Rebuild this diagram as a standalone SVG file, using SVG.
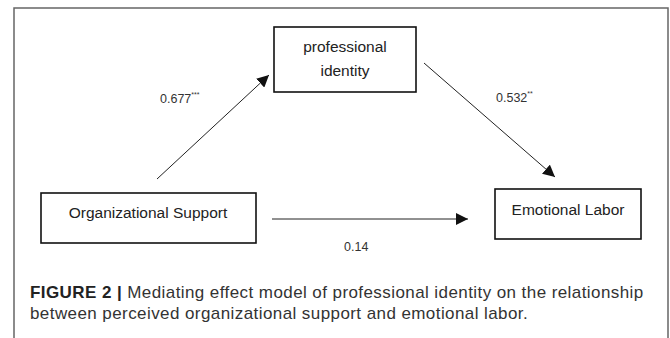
<svg xmlns="http://www.w3.org/2000/svg" width="670" height="338" viewBox="0 0 670 338">
<style>
.frame{fill:none;stroke:#666;stroke-width:1.5}
.box{fill:#fff;stroke:#111;stroke-width:1.6}
.lbl{font-family:"Liberation Sans",Arial,sans-serif;font-size:15.5px;fill:#222;text-anchor:middle}
.num{font-family:"Liberation Sans",Arial,sans-serif;font-size:12.5px;fill:#333}
.sup{font-size:7px}
.edge{stroke:#222;stroke-width:1;fill:none;marker-end:url(#ah)}
.cap{font-family:"Liberation Sans",Arial,sans-serif;font-size:17px;letter-spacing:0.42px;fill:#333}
.capb{font-weight:bold;fill:#222}
</style>
<defs>
<marker id="ah" viewBox="0 0 10 10" refX="10" refY="5" markerWidth="12" markerHeight="12" markerUnits="userSpaceOnUse" orient="auto">
<path d="M0,0 L10,5 L0,10 z" fill="#111"/>
</marker>
</defs>
<path class="frame" d="M14,338 V8 H668 V338"/>
<g id="connectors">
<line class="edge" x1="157" y1="179" x2="269" y2="75"/>
<line class="edge" x1="424" y1="63" x2="555" y2="177"/>
<line class="edge" x1="272" y1="219" x2="468" y2="219"/>
</g>
<g id="node-professional-identity">
<rect class="box" x="274" y="27" width="142" height="65"/>
<text class="lbl" x="345" y="52">professional</text>
<text class="lbl" x="345" y="76">identity</text>
</g>
<g id="node-organizational-support">
<rect class="box" x="41" y="193" width="215" height="50"/>
<text class="lbl" x="148" y="218">Organizational Support</text>
</g>
<g id="node-emotional-labor">
<rect class="box" x="495" y="189" width="146" height="50"/>
<text class="lbl" x="568" y="215">Emotional Labor</text>
</g>
<g id="labels">
<text class="num" x="160" y="103">0.677<tspan class="sup" dy="-6">***</tspan></text>
<text class="num" x="496" y="102">0.532<tspan class="sup" dy="-6">**</tspan></text>
<text class="num" x="344" y="251">0.14</text>
</g>
<g id="caption">
<text class="cap" x="30" y="298"><tspan class="capb">FIGURE 2 |</tspan> Mediating effect model of professional identity on the relationship</text>
<text class="cap" x="30" y="319">between perceived organizational support and emotional labor.</text>
</g>
</svg>
